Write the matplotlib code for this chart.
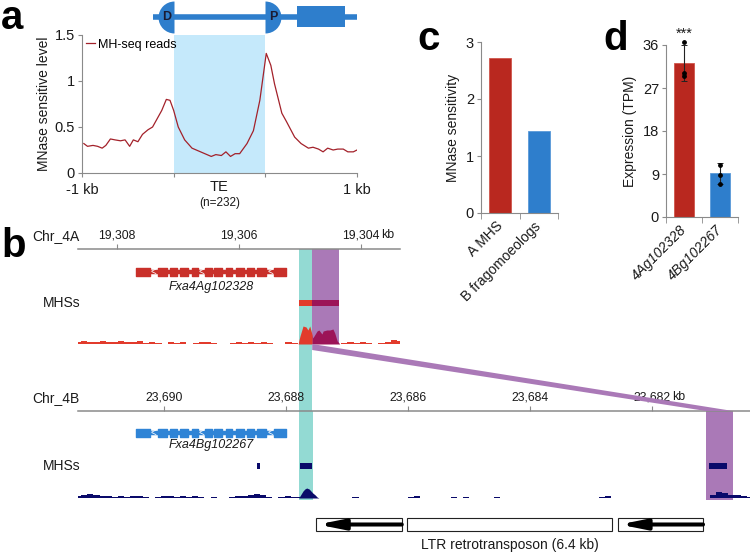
#!/usr/bin/env python3
"""MHS over TE boundaries: profile (a), browser view (b), bar panels (c, d)."""

import matplotlib

matplotlib.use("Agg")
import matplotlib.pyplot as plt
import numpy as np
from matplotlib.patches import Polygon, Rectangle

plt.rcParams["font.family"] = ["Liberation Sans", "DejaVu Sans"]

W, H = 750, 554

# ---- (a) MH-seq profile, x: 0 = -1 kb, 1..2 = TE body, 3 = +1 kb
profile_x = [0.02, 0.06, 0.12, 0.17, 0.22, 0.26, 0.31, 0.36, 0.42, 0.47,
             0.52, 0.56, 0.61, 0.66, 0.72, 0.77, 0.82, 0.87, 0.92, 0.96,
             1.00, 1.05, 1.12, 1.20, 1.27, 1.34, 1.41, 1.46, 1.52, 1.57,
             1.62, 1.67, 1.72, 1.80, 1.87, 1.94, 2.01, 2.06, 2.10, 2.18,
             2.23, 2.32, 2.39, 2.47, 2.52, 2.58, 2.63, 2.68, 2.74, 2.79,
             2.85, 2.90, 2.96, 3.00]
profile_y = [0.32, 0.29, 0.30, 0.29, 0.27, 0.30, 0.37, 0.36, 0.35, 0.36,
             0.29, 0.36, 0.34, 0.42, 0.47, 0.50, 0.59, 0.68, 0.80, 0.79,
             0.68, 0.50, 0.36, 0.27, 0.24, 0.21, 0.18, 0.20, 0.19, 0.23,
             0.18, 0.21, 0.21, 0.32, 0.46, 0.79, 1.30, 1.17, 0.97, 0.65,
             0.56, 0.39, 0.32, 0.27, 0.28, 0.26, 0.23, 0.27, 0.25, 0.26,
             0.26, 0.23, 0.23, 0.25]
te_body = (1.0, 2.0)
schema_line = (0.77, 3.0)
schema_gene = (2.35, 2.87)

# ---- (c)
c_labels = ["A MHS", "B fragomoeologs"]
c_values = [2.72, 1.43]

# ---- (d)
d_labels = ["4Ag102328", "4Bg102267"]
d_mean = [32.3, 9.2]
d_sd = [3.8, 2.2]
d_reps = [[36.6, 30.2, 29.5], [10.9, 8.7, 6.9]]

# ---- (b) genome browser, coordinates in kb
view_a = (19308.64, 19303.36)
view_b = (23691.41, 23680.39)
ticks_a = [19308, 19306, 19304]
ticks_b = [23690, 23688, 23686, 23684, 23682]

gene_a = (19307.69, 19305.23)
exons_a = [(19307.69, 19307.46), (19307.33, 19307.18), (19307.13, 19307.02),
           (19306.97, 19306.84), (19306.77, 19306.67), (19306.56, 19306.44),
           (19306.41, 19306.28), (19306.21, 19306.12), (19306.05, 19305.92),
           (19305.87, 19305.76), (19305.71, 19305.56), (19305.43, 19305.23)]
chevrons_a = [19307.41, 19306.61, 19305.49]

gene_b = (23690.46, 23688.00)
exons_b = [(23690.46, 23690.23), (23690.10, 23689.95), (23689.90, 23689.79),
           (23689.74, 23689.61), (23689.54, 23689.44), (23689.33, 23689.21),
           (23689.18, 23689.05), (23688.98, 23688.89), (23688.82, 23688.69),
           (23688.64, 23688.53), (23688.48, 23688.33), (23688.20, 23688.00)]
chevrons_b = [23690.18, 23689.38, 23688.26]

mhs_a = [(19305.02, 19304.36)]
mhs_b = [(23688.48, 23688.43), (23687.77, 23687.57), (23681.07, 23680.77)]

cyan_a = (19305.02, 19304.80)
cyan_b = (23687.78, 23687.56)
purple_a = (19304.80, 19304.36)
purple_b = (23681.11, 23680.67)

cov_a = [2, 3, 2, 2, 3, 2, 2, 3, 2, 2, 3,
         1, 2, 1, 0, 2, 1, 2, 0, 1, 2, 2, 1, 0, 0, 1, 2, 1, 2, 1, 2, 1, 0, 0, 2, 1,
         0, 0, 0, 0, 0, 0, 0,
         1, 2, 1, 2, 1, 0, 1, 2, 4, 3]
peak_a_pos = [19305.03, 19305.02, 19305.00, 19304.95, 19304.90, 19304.87,
              19304.84, 19304.80, 19304.79, 19304.72, 19304.69, 19304.64,
              19304.62, 19304.56, 19304.51, 19304.46, 19304.43, 19304.39,
              19304.36, 19304.35]
peak_a = [0, 3, 8, 18, 17, 14, 18, 9, 6, 13, 14, 10, 13, 14, 14, 15, 11, 3, 1, 0]

cov_b = [2, 3, 4, 3, 2, 2, 1, 2, 1, 2, 2, 1, 0, 1, 2, 2, 1, 2, 1, 2,
         1, 0, 1, 0, 0, 1, 2, 2, 3, 4, 3, 1, 0, 1, 2, 1, 1,
         0, 0, 0,
         0, 0, 0, 0, 0, 1, 0, 0, 0, 0, 0, 0, 0, 0, 1, 2, 0, 0, 0, 0,
         0, 1, 0, 1, 0, 0, 0, 0, 1, 0, 0, 0, 0, 0, 0, 0, 0, 0, 0, 0,
         0, 0, 0, 0, 0, 1, 2, 0, 0, 0, 0, 0, 0, 0, 0, 0, 0, 0, 0, 0,
         0, 0, 0,
         3, 6, 5, 3, 3, 2, 1]
peak_b_pos = [23687.79, 23687.75, 23687.72, 23687.69, 23687.66, 23687.62,
              23687.59, 23687.56, 23687.52, 23687.49, 23687.46]
peak_b = [0, 4, 7, 9, 10, 9, 7, 5, 3, 1, 0]

ltr_left = (23687.51, 23686.10)
ltr_core = (23686.02, 23682.66)
ltr_right = (23682.56, 23681.16)

RED = "#b9281f"
BLUE = "#2e7ecc"
GENE_RED = "#c9302a"
GENE_BLUE = "#2f84d6"
SIG_RED = "#e23b2c"
MAGENTA = "#9c1458"
NAVY = "#0a0a6a"
CYAN = "#93dad3"
PURPLE = "#aa79b7"
SHADE = "#c5e9fb"
LINE = "#a3212a"
GRAY = "#8a8a8a"
TXT = "#1a1a1a"


def rect(left, top, right, bottom):
    return [left / W, 1 - bottom / H, (right - left) / W, (bottom - top) / H]


fig = plt.figure(figsize=(W / 100, H / 100), dpi=100)
fig.patch.set_facecolor("white")

# ================= panel a =================
ax = fig.add_axes(rect(82, 35, 357, 173))
ax.axvspan(*te_body, color=SHADE, lw=0, zorder=0)
ax.plot(profile_x, profile_y, color=LINE, lw=0.9, label="MH-seq reads", zorder=2)
ax.set_xlim(0, 3)
ax.set_ylim(0, 1.5)
ax.set_yticks([0, 0.5, 1, 1.5], ["0", "0.5", "1", "1.5"])
ax.set_xticks([0, 1, 2, 3], ["-1 kb", "", "", "1 kb"])
ax.tick_params(axis="y", length=3, color=GRAY, labelsize=10.5, labelcolor=TXT, pad=2)
ax.tick_params(axis="x", length=3, color=GRAY, labelsize=10.5, labelcolor=TXT, pad=4)
for side in ("top", "right"):
    ax.spines[side].set_visible(False)
for side in ("left", "bottom"):
    ax.spines[side].set_color(GRAY)
ax.set_ylabel("MNase sensitive level", fontsize=10, color=TXT, labelpad=3)
ax.annotate("TE", xy=(np.mean(te_body), 0), xycoords=("data", "axes fraction"),
            xytext=(0, -5), textcoords="offset points", ha="center", va="top",
            fontsize=10.5, color=TXT)
ax.annotate("(n=232)", xy=(np.mean(te_body), 0), xycoords=("data", "axes fraction"),
            xytext=(0, -17), textcoords="offset points", ha="center", va="top",
            fontsize=8.5, color=TXT)
ax.legend(loc="upper left", bbox_to_anchor=(0.0, 1.0), borderaxespad=0.1,
          borderpad=0.2, handlelength=0.7, handletextpad=0.3, frameon=False,
          fontsize=9)

# schematic above panel a
sx = fig.add_axes(rect(82, 0, 357, 33))
sx.set_xlim(0, 3)
sx.set_ylim(0, 1)
sx.axis("off")
sx.plot(schema_line, [0.5, 0.5], color=BLUE, lw=4.0, solid_capstyle="butt")
sx.add_patch(Rectangle((schema_gene[0], 0.18), schema_gene[1] - schema_gene[0], 0.64,
                       color=BLUE, lw=0))
sx.plot([te_body[0]], [0.5], marker="o", ms=23, fillstyle="left", mew=0,
        color=BLUE, clip_on=False)
sx.plot([te_body[1]], [0.5], marker="o", ms=23, fillstyle="right", mew=0,
        color=BLUE, clip_on=False)
sx.text(te_body[0] - 0.08, 0.5, "D", ha="center", va="center", fontsize=9,
        fontweight="bold", color="#1b1b33")
sx.text(te_body[1] + 0.09, 0.5, "P", ha="center", va="center", fontsize=9,
        fontweight="bold", color="#1b1b33")


# ================= panel c / d =================
def bar_panel(ax, labels, values, ylim, yticks, ylabel, italic):
    x = np.arange(len(values))
    ax.bar(x, values, width=0.57, color=[RED, BLUE], edgecolor=["#d0564c", "#5a9ad8"],
           linewidth=0.6, zorder=2)
    ax.set_xlim(-0.5, len(values) - 0.5)
    ax.set_ylim(*ylim)
    ax.set_yticks(yticks)
    ax.set_xticks(x, labels, rotation=45, ha="right", va="center",
                  rotation_mode="anchor", fontstyle="italic" if italic else "normal")
    ax.set_xticks(np.arange(len(values) + 1) - 0.5, minor=True)
    ax.tick_params(axis="x", which="major", length=0, pad=8, labelsize=10, labelcolor=TXT)
    ax.tick_params(axis="x", which="minor", length=4, color=GRAY)
    ax.tick_params(axis="y", length=3, color=GRAY, labelsize=10.5, labelcolor=TXT, pad=2)
    for side in ("top", "right"):
        ax.spines[side].set_visible(False)
    for side in ("left", "bottom"):
        ax.spines[side].set_color(GRAY)
    ax.set_ylabel(ylabel, fontsize=10, color=TXT, labelpad=4)
    return x


axc = fig.add_axes(rect(481, 42, 558, 213))
bar_panel(axc, c_labels, c_values, (0, 3), [0, 1, 2, 3], "MNase sensitivity", False)

axd = fig.add_axes(rect(666, 45, 738, 217))
xd = bar_panel(axd, d_labels, d_mean, (0, 36), [0, 9, 18, 27, 36], "Expression (TPM)", True)
axd.errorbar(xd, d_mean, yerr=d_sd, fmt="none", ecolor="#222222", elinewidth=0.8,
             capsize=2, capthick=0.7, zorder=3, clip_on=False)
for xi, reps in zip(xd, d_reps):
    axd.scatter([xi] * len(reps), reps, s=6, color="black", zorder=4, clip_on=False)
axd.annotate("***", xy=(xd[0], d_mean[0] + d_sd[0]), xytext=(0, 3),
             textcoords="offset points", ha="center", va="bottom", fontsize=10.5,
             color=TXT, annotation_clip=False)


# ================= panel b =================
def browser_axis(ax, view, ticks, ymax, chrom):
    ax.set_xlim(*view)
    ax.set_ylim(ymax, 0)
    ax.set_facecolor("none")
    for side in ("left", "right", "bottom"):
        ax.spines[side].set_visible(False)
    ax.spines["top"].set_color(GRAY)
    ax.spines["top"].set_linewidth(1.1)
    ax.xaxis.tick_top()
    ax.set_xticks(ticks, [f"{t:,}" for t in ticks])
    ax.set_yticks([])
    ax.tick_params(axis="x", direction="out", length=3.6, color=GRAY,
                   labelsize=8.8, labelcolor=TXT, pad=2)
    ax.annotate("kb", xy=(ticks[-1], 1), xycoords=("data", "axes fraction"),
                xytext=(14.5, 5.6), textcoords="offset points", ha="left",
                va="bottom", fontsize=8.8, color=TXT)
    ax.annotate(chrom, xy=(0, 1), xycoords="axes fraction", xytext=(1, 4.5),
                textcoords="offset points", ha="right", va="bottom",
                fontsize=10, color=TXT)


def draw_gene(ax, gene, exons, chevrons, y, color, name, label_y):
    ax.plot(gene, [y, y], color=color, lw=3.2, solid_capstyle="butt", zorder=2)
    ax.broken_barh([(min(a, b), abs(a - b)) for a, b in exons], (y - 4, 8),
                   color=color, zorder=2)
    for c in chevrons:
        ax.text(c, y, "<", color="white", fontsize=7, ha="center", va="center", zorder=3)
    ax.text(np.mean(gene), label_y, name, fontstyle="italic", fontsize=9,
            ha="center", va="center", color=TXT)


def mhs_label(ax, y):
    ax.annotate("MHSs", xy=(0, y), xycoords=("axes fraction", "data"),
                xytext=(2, 0), textcoords="offset points", ha="right",
                va="center", fontsize=10, color=TXT)


axa = fig.add_axes(rect(78, 249, 400, 411))
browser_axis(axa, view_a, ticks_a, 162, "Chr_4A")
axa.axvspan(*cyan_a, color=CYAN, lw=0, zorder=0)
axa.fill_between(purple_a, 0, 95, color=PURPLE, lw=0, zorder=0.5)
draw_gene(axa, gene_a, exons_a, chevrons_a, 23, GENE_RED, "Fxa4Ag102328", 38)
mhs_label(axa, 54)
for s, e in mhs_a:
    axa.fill_between([s, e], 51, 57, color=SIG_RED, lw=0, zorder=2)
    lo, hi = max(min(s, e), min(purple_a)), min(max(s, e), max(purple_a))
    if hi > lo:
        axa.fill_between([lo, hi], 51, 57, color=MAGENTA, lw=0, zorder=2.1)
xa = np.linspace(view_a[0], view_a[1], len(cov_a))
axa.fill_between(xa, 95, 95 - np.array(cov_a), step="mid", color=SIG_RED, lw=0, zorder=2)
pa = np.array(peak_a_pos)
va = np.array(peak_a)
axa.fill_between(pa, 95, 95 - va, where=pa >= purple_a[0], color=SIG_RED, lw=0, zorder=2)
axa.fill_between(pa, 95, 95 - va, where=pa <= purple_a[0], color=MAGENTA, lw=0, zorder=2)

axb = fig.add_axes(rect(78, 411, 750, 554))
browser_axis(axb, view_b, ticks_b, 143, "Chr_4B")
axb.fill_between(cyan_b, 0, 89, color=CYAN, lw=0, zorder=0)
axb.fill_between(purple_b, 0, 89, color=PURPLE, lw=0, zorder=0.5)
draw_gene(axb, gene_b, exons_b, chevrons_b, 22, GENE_BLUE, "Fxa4Bg102267", 34)
mhs_label(axb, 55)
for s, e in mhs_b:
    axb.fill_between([s, e], 52, 58, color=NAVY, lw=0, zorder=2)
xb = np.linspace(view_b[0], view_b[1], len(cov_b))
axb.fill_between(xb, 87, 87 - np.array(cov_b), step="mid", color=NAVY, lw=0, zorder=2)
axb.fill_between(peak_b_pos, 87, 87 - np.array(peak_b), color=NAVY, lw=0, zorder=2)

# LTR retrotransposon
for s, e in (ltr_left, ltr_core, ltr_right):
    axb.add_patch(Rectangle((e, 107), s - e, 13, facecolor="white", edgecolor="#222222",
                            lw=0.8, zorder=2))
for s, e in (ltr_left, ltr_right):
    axb.annotate("", xy=(s - 0.03, 113.5), xytext=(e, 113.5),
                 arrowprops=dict(arrowstyle="-|>,head_length=1.5,head_width=0.3",
                                 mutation_scale=10, lw=2.9, color="black",
                                 shrinkA=0, shrinkB=0), zorder=3)
axb.text(np.mean([ltr_left[0], ltr_right[1]]), 134, "LTR retrotransposon (6.4 kb)",
         ha="center", va="center", fontsize=10, color=TXT)


# connector between the two purple MHS regions
def to_fig(ax, x, y):
    return fig.transFigure.inverted().transform(ax.transData.transform((x, y)))


pts = [to_fig(axa, purple_a[0], 95), to_fig(axb, purple_b[1], 0),
       to_fig(axb, purple_b[0], 0), to_fig(axa, purple_a[0], 101)]
fig.add_artist(Polygon(pts, closed=True, transform=fig.transFigure,
                       color=PURPLE, lw=0, zorder=1))

# panel letters
for letter, x, y in (("a", 1, 29), ("b", 1, 257), ("c", 417, 50), ("d", 603, 50)):
    fig.text(x / W, 1 - y / H, letter, fontsize=29, fontweight="bold",
             ha="left", va="baseline", color="black")

fig.savefig("out.png", dpi=100)
